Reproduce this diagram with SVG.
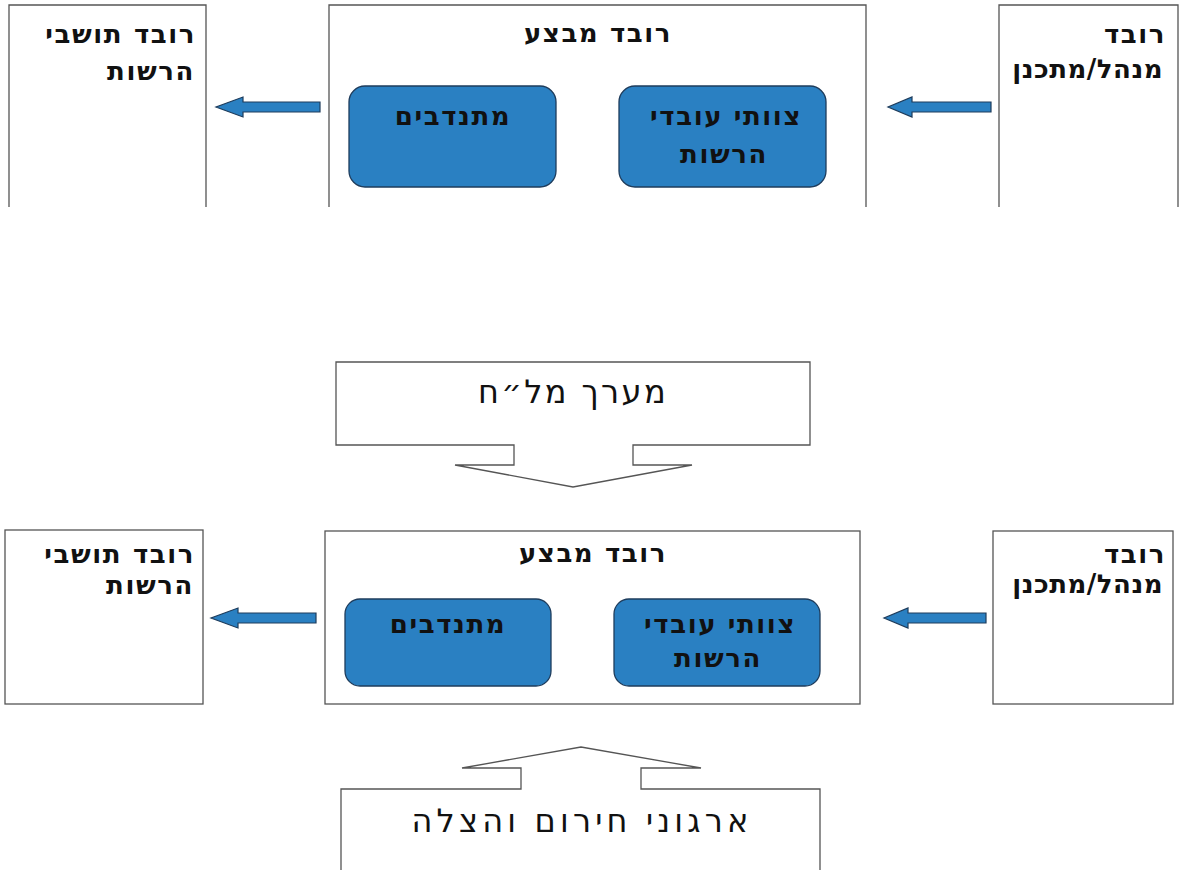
<svg xmlns="http://www.w3.org/2000/svg" width="1188" height="870" viewBox="0 0 1188 870">
<style>
.box{fill:#fff;stroke:#555;stroke-width:1.3}
.inner{fill:#2a80c2;stroke:#1e3c5c;stroke-width:1.3}
.arrow{fill:#2a80c2;stroke:#1e3c5c;stroke-width:1.2}
.t1{font-family:"DejaVu Sans",sans-serif;font-weight:bold;font-size:26px;letter-spacing:1.6px;fill:#111}
.tight{letter-spacing:0.5px}
.t3{font-family:"DejaVu Sans",sans-serif;font-size:32px;letter-spacing:2.4px;fill:#111}
.t4{font-family:"DejaVu Sans",sans-serif;font-size:32px;letter-spacing:4.2px;fill:#111}
</style>
<rect width="1188" height="870" fill="#fff"/>
<g id="top-residents">
<path class="box" d="M9,207 V5 H206 V207"/>
<text class="t1" x="196" y="43" text-anchor="end">רובד תושבי</text>
<text class="t1" x="195" y="80" text-anchor="end">הרשות</text>
</g>
<g id="top-exec">
<path class="box" d="M329,207 V5 H866 V207"/>
<text class="t1" x="598" y="42" text-anchor="middle">רובד מבצע</text>
</g>
<g id="top-volunteers">
<rect class="inner" x="349" y="86" width="207" height="101" rx="16"/>
<text class="t1" x="453" y="125" text-anchor="middle">מתנדבים</text>
</g>
<g id="top-staff">
<rect class="inner" x="619" y="86" width="207" height="101" rx="16"/>
<text class="t1" x="726" y="125" text-anchor="middle">צוותי עובדי</text>
<text class="t1" x="724" y="163" text-anchor="middle">הרשות</text>
</g>
<g id="top-manager">
<path class="box" d="M999,207 V5 H1178 V207"/>
<text class="t1" x="1166" y="43" text-anchor="end">רובד</text>
<text class="t1 tight" x="1163" y="78" text-anchor="end">מנהל/מתכנן</text>
</g>
<g id="mlh">
<path class="box" d="M336,362 H810 V445 H633 V465 H692 L573,487 L455,465 H514 V445 H336 Z"/>
<text class="t3" x="573" y="403" text-anchor="middle">מערך מל״ח</text>
</g>
<g id="bot-residents">
<rect class="box" x="5" y="530" width="198" height="174"/>
<text class="t1" x="195" y="563" text-anchor="end">רובד תושבי</text>
<text class="t1" x="194" y="594" text-anchor="end">הרשות</text>
</g>
<g id="bot-exec">
<rect class="box" x="325" y="531" width="535" height="173"/>
<text class="t1" x="593" y="562" text-anchor="middle">רובד מבצע</text>
</g>
<g id="bot-volunteers">
<rect class="inner" x="345" y="599" width="206" height="87" rx="15"/>
<text class="t1" x="448" y="633" text-anchor="middle">מתנדבים</text>
</g>
<g id="bot-staff">
<rect class="inner" x="614" y="599" width="206" height="87" rx="15"/>
<text class="t1" x="720" y="633" text-anchor="middle">צוותי עובדי</text>
<text class="t1" x="718" y="667" text-anchor="middle">הרשות</text>
</g>
<g id="bot-manager">
<rect class="box" x="993" y="531" width="180" height="173"/>
<text class="t1" x="1166" y="563" text-anchor="end">רובד</text>
<text class="t1 tight" x="1163" y="593" text-anchor="end">מנהל/מתכנן</text>
</g>
<g id="rescue">
<path class="box" d="M341,870 V789 H521 V768 H462 L581,747 L701,768 H641 V789 H820 V870"/>
<text class="t4" x="582" y="832" text-anchor="middle">ארגוני חירום והצלה</text>
</g>
<g id="connectors">
<path class="arrow" d="M320,102 H243 V97 L216,107 L243,117 V112 H320 Z"/>
<path class="arrow" d="M991,102 H912 V97 L888,107 L912,117 V112 H991 Z"/>
<path class="arrow" d="M316,613 H238 V608 L211,618 L238,628 V623 H316 Z"/>
<path class="arrow" d="M986,613 H908 V608 L884,618 L908,628 V623 H986 Z"/>
</g>
</svg>
